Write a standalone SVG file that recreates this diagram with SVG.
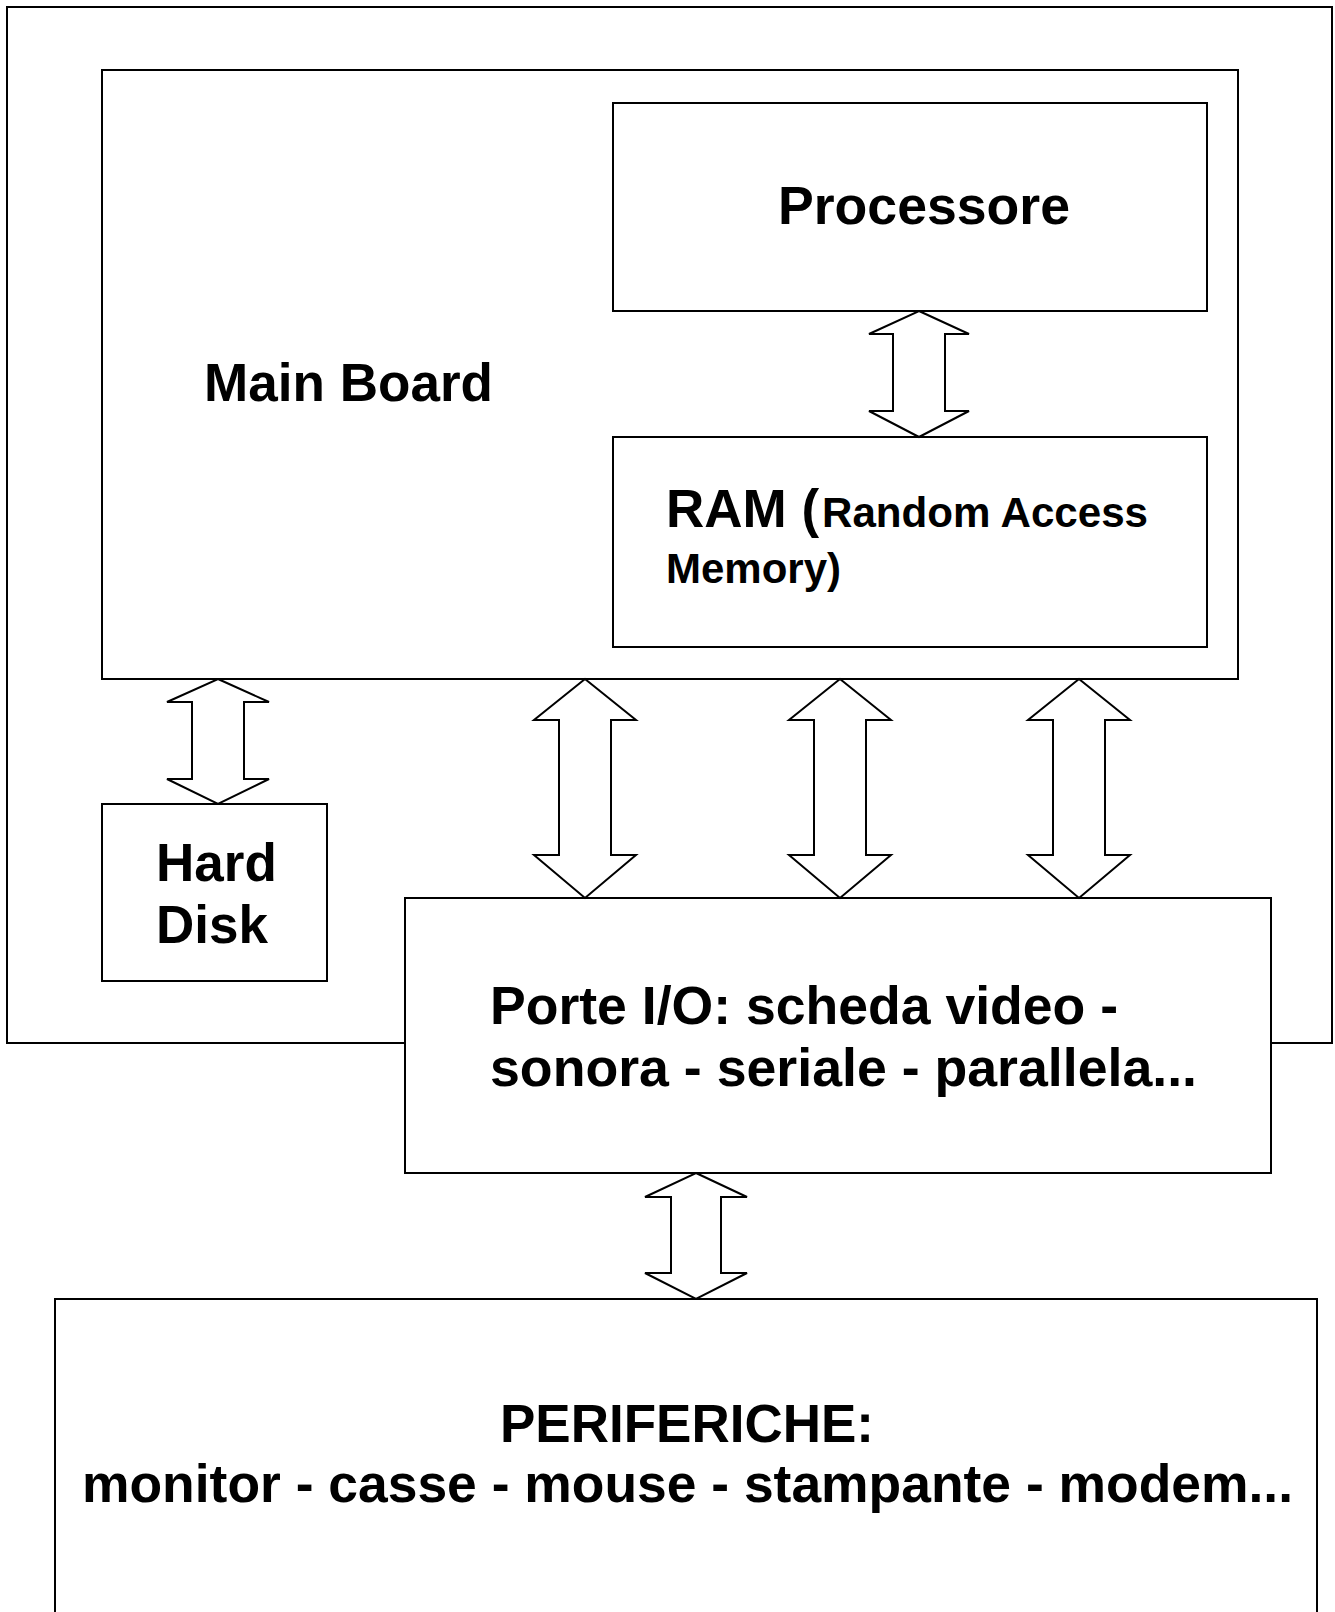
<svg xmlns="http://www.w3.org/2000/svg" width="1335" height="1612" viewBox="0 0 1335 1612">
<style>
.box{fill:#fff;stroke:#000;stroke-width:2}
.arr{fill:#fff;stroke:#000;stroke-width:2;stroke-linejoin:miter}
.t{font-family:"Liberation Sans",Arial,sans-serif;font-weight:bold;fill:#000}
</style>
<rect width="1335" height="1612" fill="#fff"/>
<g id="computer"><rect class="box" x="7" y="7" width="1325" height="1036"/></g>
<g id="mainboard"><rect class="box" x="102" y="70" width="1136" height="609"/>
<text class="t" x="204" y="401" font-size="54" textLength="289" lengthAdjust="spacingAndGlyphs">Main Board</text></g>
<g id="processore"><rect class="box" x="613" y="103" width="594" height="208"/>
<text class="t" x="778" y="224" font-size="53" textLength="292" lengthAdjust="spacingAndGlyphs">Processore</text></g>
<g id="ram"><rect class="box" x="613" y="437" width="594" height="210"/>
<text class="t" x="666" y="527" font-size="53">RAM (</text>
<text class="t" x="822" y="527" font-size="43" textLength="326" lengthAdjust="spacingAndGlyphs">Random Access</text>
<text class="t" x="666" y="583" font-size="42">Memory)</text></g>
<g id="harddisk"><rect class="box" x="102" y="804" width="225" height="177"/>
<text class="t" x="156" y="881" font-size="53">Hard</text>
<text class="t" x="156" y="943" font-size="53">Disk</text></g>
<g id="porte"><rect class="box" x="405" y="898" width="866" height="275"/>
<text class="t" x="490" y="1024" font-size="54" textLength="628" lengthAdjust="spacingAndGlyphs">Porte I/O: scheda video -</text>
<text class="t" x="490" y="1086" font-size="54" textLength="707" lengthAdjust="spacingAndGlyphs">sonora - seriale - parallela...</text></g>
<g id="periferiche"><rect class="box" x="55" y="1299" width="1262" height="340"/>
<text class="t" x="500" y="1442" font-size="53" textLength="374" lengthAdjust="spacingAndGlyphs">PERIFERICHE:</text>
<text class="t" x="82" y="1502" font-size="53" textLength="1211" lengthAdjust="spacingAndGlyphs">monitor - casse - mouse - stampante - modem...</text></g>
<g id="connectors">
<polygon class="arr" points="919,311 969,334 945,334 945,411 969,411 919,437 869,411 893,411 893,334 869,334"/>
<polygon class="arr" points="218,679 269,702 244,702 244,779 269,779 218,804 167,779 192,779 192,702 167,702"/>
<polygon class="arr" points="585,679 636,720 611,720 611,855 636,855 585,898 534,855 559,855 559,720 534,720"/>
<polygon class="arr" points="840,679 891,720 866,720 866,855 891,855 840,898 789,855 814,855 814,720 789,720"/>
<polygon class="arr" points="1079,679 1130,720 1105,720 1105,855 1130,855 1079,898 1028,855 1053,855 1053,720 1028,720"/>
<polygon class="arr" points="696,1173 747,1197 721,1197 721,1273 747,1273 696,1299 645,1273 671,1273 671,1197 645,1197"/>
</g>
</svg>
